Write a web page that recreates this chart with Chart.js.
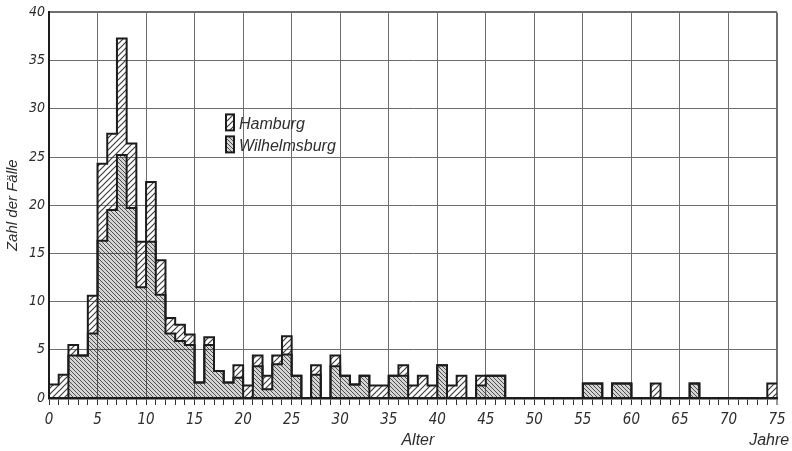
<!DOCTYPE html>
<html>
<head>
<meta charset="utf-8">
<script src="https://cdn.jsdelivr.net/npm/chart.js@4.4.1/dist/chart.umd.min.js"></script>
<style>
  html, body { margin: 0; padding: 0; background: #fff; }
  #wrap { width: 792px; height: 451px; }
</style>
</head>
<body>
<div id="wrap"><canvas id="chart" width="792" height="451"></canvas></div>
<script>
// Age in whole years (start of each one-year class)
const ages = [
  0, 1, 2, 3, 4, 5, 6, 7, 8, 9, 10, 11, 12, 13, 14, 15, 16, 17, 18, 19,
  20, 21, 22, 23, 24, 25, 26, 27, 28, 29, 30, 31, 32, 33, 34, 35, 36, 37, 38, 39,
  40, 41, 42, 43, 44, 45, 46, 47, 48, 49, 50, 51, 52, 53, 54, 55, 56, 57, 58, 59,
  60, 61, 62, 63, 64, 65, 66, 67, 68, 69, 70, 71, 72, 73, 74
];

// Cases per age class, Wilhelmsburg (lower part of each column)
const wilhelmsburg = [
  0, 0, 4.4, 4.4, 6.7, 16.3, 19.5, 25.2, 19.7, 11.5,
  16.2, 10.7, 6.7, 5.9, 5.5, 1.6, 5.5, 2.8, 1.6, 2.1,
  0, 3.3, 0.9, 3.5, 4.5, 2.3, 0, 2.4, 0, 3.3,
  2.3, 1.4, 2.3, 0, 0, 2.3, 2.3, 0, 0, 0,
  3.4, 0, 0, 0, 1.3, 2.3, 2.3, 0, 0, 0,
  0, 0, 0, 0, 0, 1.5, 1.5, 0, 1.5, 1.5,
  0, 0, 0, 0, 0, 0, 1.5, 0, 0, 0,
  0, 0, 0, 0, 0
];

// Cases per age class, Hamburg (stacked on top)
const hamburg = [
  1.4, 2.4, 1.1, 0, 3.9, 8.0, 7.9, 12.1, 6.7, 4.7,
  6.2, 3.6, 1.6, 1.7, 1.1, 0, 0.8, 0, 0, 1.3,
  1.3, 1.1, 1.4, 0.9, 1.9, 0, 0, 1.0, 0, 1.1,
  0, 0, 0, 1.3, 1.3, 0, 1.1, 1.3, 2.3, 1.3,
  0, 1.3, 2.3, 0, 1.0, 0, 0, 0, 0, 0,
  0, 0, 0, 0, 0, 0, 0, 0, 0, 0,
  0, 0, 1.5, 0, 0, 0, 0, 0, 0, 0,
  0, 0, 0, 0, 1.5
];

const xTickLabels = [0, 5, 10, 15, 20, 25, 30, 35, 40, 45, 50, 55, 60, 65, 70, 75];
const yTickLabels = [0, 5, 10, 15, 20, 25, 30, 35, 40];

const INK = '#1c1c1c';
const GRID = '#6e6e6e';
const TEXT = '#2e2e2e';
const NUM_FONT = '"Liberation Sans Narrow", "DejaVu Sans Condensed", sans-serif';
const LABEL_FONT = '"Liberation Sans", "DejaVu Sans", sans-serif';

const canvas = document.getElementById('chart');
const mainCtx = canvas.getContext('2d');

// Diagonal hatch fill used for the column areas
function hatch(size, dir, color, width, bg) {
  const c = document.createElement('canvas');
  c.width = size; c.height = size;
  const g = c.getContext('2d');
  if (bg) { g.fillStyle = bg; g.fillRect(0, 0, size, size); }
  g.strokeStyle = color;
  g.lineWidth = width;
  g.beginPath();
  if (dir === '/') {
    g.moveTo(0, size); g.lineTo(size, 0);
    g.moveTo(-1, 1); g.lineTo(1, -1);
    g.moveTo(size - 1, size + 1); g.lineTo(size + 1, size - 1);
  } else {
    g.moveTo(0, 0); g.lineTo(size, size);
    g.moveTo(-1, size - 1); g.lineTo(1, size + 1);
    g.moveTo(size - 1, -1); g.lineTo(size + 1, 1);
  }
  g.stroke();
  return mainCtx.createPattern(c, 'repeat');
}

const hamburgFill = hatch(6, '/', 'rgba(40,40,40,0.9)', 1.2, null);
const wilhelmsburgFill = hatch(4, '\\', 'rgba(45,45,45,0.8)', 1.0, 'rgba(0,0,0,0.17)');

// Each class holds its value from its start age to the next one;
// the last class is closed at the upper edge of its one-year width.
function stepPoints(values) {
  const pts = ages.map((a, i) => ({ x: a, y: values[i] }));
  const last = ages.length - 1;
  pts.push({ x: ages[last] + 1, y: values[last] });
  return pts;
}

// Free-standing legend inside the plot
const innerLegend = {
  id: 'innerLegend',
  afterDatasetsDraw(chart) {
    const { ctx, chartArea } = chart;
    const x0 = chartArea.left + 177;
    const y0 = chartArea.top + 102;
    const items = chart.data.datasets.slice().reverse();
    items.forEach((ds, k) => {
      const top = y0 + k * 22;
      ctx.save();
      ctx.fillStyle = '#fff';
      ctx.fillRect(x0, top, 8, 16);
      ctx.fillStyle = ds.backgroundColor;
      ctx.fillRect(x0, top, 8, 16);
      ctx.strokeStyle = INK;
      ctx.lineWidth = 2;
      ctx.strokeRect(x0, top, 8, 16);
      ctx.fillStyle = TEXT;
      ctx.font = 'italic 16px ' + LABEL_FONT;
      ctx.textBaseline = 'alphabetic';
      ctx.textAlign = 'left';
      ctx.fillText(ds.label, x0 + 13, top + 15);
      ctx.restore();
    });
  }
};

// Axis captions
const axisCaptions = {
  id: 'axisCaptions',
  afterDraw(chart) {
    const { ctx, chartArea, scales } = chart;
    ctx.save();
    ctx.fillStyle = TEXT;
    ctx.textBaseline = 'middle';
    ctx.textAlign = 'center';
    ctx.font = 'italic 15px ' + LABEL_FONT;
    ctx.translate(13, (chartArea.top + chartArea.bottom) / 2);
    ctx.rotate(-Math.PI / 2);
    ctx.fillText('Zahl der Fälle', 0, 0);
    ctx.restore();

    ctx.save();
    ctx.fillStyle = TEXT;
    ctx.textBaseline = 'middle';
    ctx.textAlign = 'center';
    ctx.font = 'italic 16px ' + LABEL_FONT;
    ctx.fillText('Alter', scales.x.getPixelForValue(38), 441);
    ctx.fillText('Jahre', scales.x.getPixelForValue(74.2), 441);
    ctx.restore();
  }
};

new Chart(canvas, {
  type: 'line',
  data: {
    datasets: [
      {
        label: 'Wilhelmsburg',
        data: stepPoints(wilhelmsburg),
        stepped: true,
        fill: 'origin',
        backgroundColor: wilhelmsburgFill,
        borderColor: INK,
        borderWidth: 2,
        borderJoinStyle: 'miter',
        pointRadius: 0
      },
      {
        label: 'Hamburg',
        data: stepPoints(hamburg),
        stepped: true,
        fill: '-1',
        backgroundColor: hamburgFill,
        borderColor: INK,
        borderWidth: 2,
        borderJoinStyle: 'miter',
        pointRadius: 0
      }
    ]
  },
  options: {
    responsive: false,
    animation: false,
    devicePixelRatio: 1,
    layout: { padding: { top: 12, right: 15, left: 0, bottom: 0 } },
    plugins: {
      legend: { display: false },
      tooltip: { enabled: false },
      title: { display: false }
    },
    scales: {
      x: {
        type: 'linear',
        min: 0,
        max: 75,
        ticks: {
          stepSize: 1,
          autoSkip: false,
          maxRotation: 0,
          padding: 6,
          color: TEXT,
          font: { family: NUM_FONT, size: 15, style: 'italic' },
          callback: v => (xTickLabels.includes(v) ? String(v) : '')
        },
        grid: {
          color: c => (c.tick && c.tick.value % 5 === 0 ? GRID : 'rgba(0,0,0,0)'),
          lineWidth: c => (c.tick && c.tick.value === 75 ? 2 : 1),
          tickColor: '#333',
          tickLength: 7,
          tickWidth: 1
        },
        border: { color: INK, width: 2.5 },
        afterFit: s => { s.height = 53; }
      },
      y: {
        min: 0,
        max: 40,
        stacked: true,
        ticks: {
          stepSize: 5,
          padding: 4,
          color: TEXT,
          font: { family: NUM_FONT, size: 14, style: 'italic' },
          callback: v => (yTickLabels.includes(v) ? String(v) : '')
        },
        grid: {
          color: GRID,
          lineWidth: c => (c.tick && c.tick.value === 40 ? 2 : 1),
          drawTicks: false
        },
        border: { color: INK, width: 2 },
        afterFit: s => { s.width = 49; }
      }
    }
  },
  plugins: [innerLegend, axisCaptions]
});
</script>
</body>
</html>
